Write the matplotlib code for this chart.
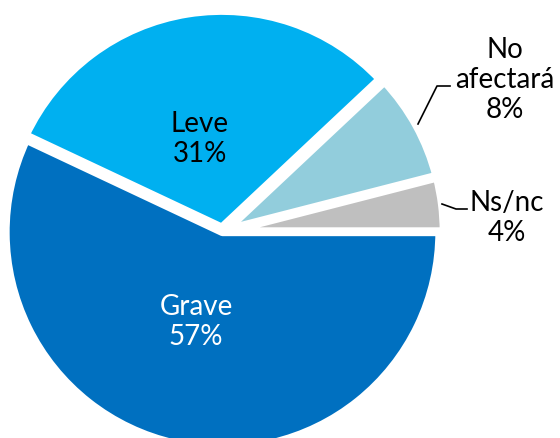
import numpy as np
import matplotlib
matplotlib.use("Agg")
import matplotlib.pyplot as plt

plt.rcParams['font.family'] = ['Lato', 'DejaVu Sans']

# data
labels = ["Grave", "Leve", "No\nafectará", "Ns/nc"]
values = [57, 31, 8, 4]
colors = ["#0070C0", "#00B0F0", "#92CDDC", "#BFBFBF"]

# pixel geometry of the reference (560x438)
W, H = 560, 438
cx, cy, R = 222.5, 232, 217

def px(x, y):
    # pixel position -> data coords (radius 1 = R px)
    return ((x - cx) / R, (cy - y) / R)

fig = plt.figure(figsize=(W / 100, H / 100), dpi=100)
ax = fig.add_axes([0, 0, 1, 1])

wedges, _ = ax.pie(values, colors=colors, startangle=0, counterclock=False,
                   explode=[0, 0.02, 0.02, 0.02], radius=1,
                   wedgeprops=dict(edgecolor="white", linewidth=6,
                                   joinstyle="round"))

ax.set_xlim(-cx / R, (W - cx) / R)
ax.set_ylim(-(H - cy) / R, cy / R)
ax.set_aspect("equal")
ax.axis("off")

fs = 20
ax.text(*px(200, 139), f"{labels[1]}\n{values[1]}%", ha="center", va="center",
        fontsize=fs, color="black")
ax.text(*px(196, 322), f"{labels[0]}\n{values[0]}%", ha="center", va="center",
        fontsize=fs, color="white")
ax.text(*px(505, 80), f"{labels[2]}\n{values[2]}%", ha="center", va="center",
        fontsize=fs, color="black")
ax.text(*px(507, 218), f"{labels[3]}\n{values[3]}%", ha="center", va="center",
        fontsize=fs, color="black")

# leader lines
lx, ly = zip(px(418, 124), px(437, 86), px(450, 86))
ax.plot(lx, ly, color="black", lw=1.2)
lx, ly = zip(px(442, 204), px(456, 209), px(467, 209))
ax.plot(lx, ly, color="black", lw=1.2)

fig.savefig("out.png", dpi=100)
